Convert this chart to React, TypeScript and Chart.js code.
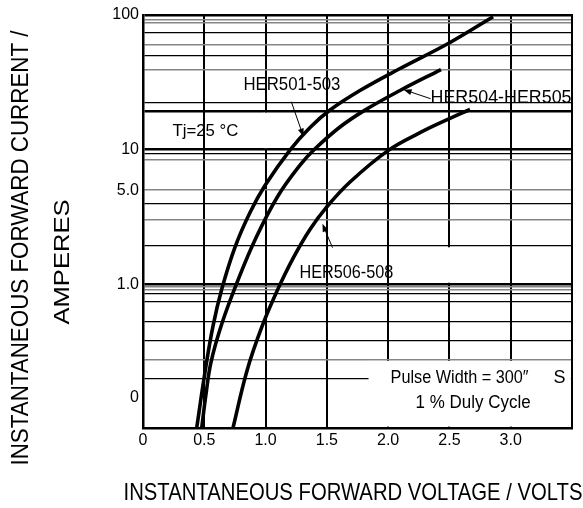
import React, { useEffect, useRef } from 'react';
import { Chart, registerables } from 'chart.js';

Chart.register(...registerables);

const FONT = '"Liberation Sans", Arial, sans-serif';

// ---- data ----
const V_HER501_503 = [0.438, 0.506, 0.571, 0.645, 0.751, 0.873, 0.995, 1.199, 1.363, 1.526, 1.77, 2.097, 2.505, 2.856];
const I_HER501_503 = [0.0855, 0.2227, 0.489, 0.937, 1.889, 3.41, 5.41, 9.93, 14.62, 19.69, 27.49, 40.04, 62.5, 97.1];

const V_HER504_505 = [0.479, 0.514, 0.555, 0.645, 0.767, 0.922, 1.101, 1.281, 1.395, 1.607, 1.811, 2.097, 2.431];
const I_HER504_505 = [0.0855, 0.1528, 0.2642, 0.5148, 1.029, 2.212, 4.52, 7.66, 9.97, 14.72, 19.66, 27.49, 39.3];

const V_HER506_508 = [0.734, 0.8485, 0.971, 1.093, 1.224, 1.362, 1.493, 1.689, 1.999, 2.26, 2.496, 2.668];
const I_HER506_508 = [0.0855, 0.2281, 0.4859, 0.8887, 1.557, 2.553, 3.695, 5.744, 9.83, 13.36, 16.91, 19.86];

// ---- axes ----
const X_MIN = 0;
const X_MAX = 3.5;
const X_TICKS = [0, 0.5, 1, 1.5, 2, 2.5, 3, 3.5];
const X_TICK_LABELS = ['0', '0.5', '1.0', '1.5', '2.0', '2.5', '3.0', ''];

const Y_MIN = 0.0855;
const Y_MAX = 100;
const Y_LABEL_VALUES = [100, 10, 5, 1, 0.143];
const Y_LABELS = ['100', '10', '5.0', '1.0', '0'];
const Y_GRID_THICK = [100, 19.3, 10, 1];
const Y_GRID_BLACK = [73.5, 49.9, 22.5, 9.26, 4, 1.93, 0.856, 0.743, 0.527, 0.381, 0.198];
const Y_GRID_GRAY = [92.3, 88, 60.1, 39.4, 8.47, 5, 3, 0.955, 0.91, 0.274];

const Y_TICKS = Array.from(new Set([...Y_GRID_THICK, ...Y_GRID_BLACK, ...Y_GRID_GRAY, ...Y_LABEL_VALUES])).sort((a, b) => a - b);

// ---- annotations (data coordinates) ----
const NOTES = [
  { text: 'Tj=25 °C', v: 0.24, i: 13.6, size: 17, width: 66 },
  { text: 'HER501-503', v: 0.819, i: 30.3, size: 19, width: 97 },
  { text: 'HER504-HER505', v: 2.346, i: 24.1, size: 19, width: 141 },
  { text: 'HER506-508', v: 1.276, i: 1.21, size: 19, width: 94 },
  { text: 'Pulse Width = 300″', v: 2.02, i: 0.201, size: 18, width: 138 },
  { text: 'S', v: 3.35, i: 0.201, size: 18, width: 0 },
  { text: '1 % Duly Cycle', v: 2.224, i: 0.131, size: 18, width: 115 },
];
const ARROWS = [
  { from: [1.21, 22.7], to: [1.309, 12.5] },
  { from: [2.346, 23.9], to: [2.126, 27.9] },
  { from: [1.546, 1.87], to: [1.464, 2.81] },
];
const BOX = { vFrom: 1.84, iTop: 0.274 };
const GAPS = [
  { v: 1.0, iTop: 19.3, iBot: 10 },
  { v: 2.5, iTop: 1.93, iBot: 1 },
];

const near = (a: number, list: number[]) => list.some((b) => Math.abs(a - b) / b < 1e-6);

function fitText(ctx: CanvasRenderingContext2D, text: string, x: number, y: number, size: number, width: number, align: CanvasTextAlign = 'left', rotate = false) {
  ctx.save();
  ctx.font = `${size}px ${FONT}`;
  const w0 = ctx.measureText(text).width;
  const sx = width ? width / w0 : 1;
  ctx.translate(x, y);
  if (rotate) ctx.rotate(-Math.PI / 2);
  ctx.scale(sx, 1);
  ctx.textAlign = align;
  ctx.textBaseline = 'middle';
  ctx.fillStyle = '#000';
  ctx.fillText(text, 0, 0);
  ctx.restore();
}

const overlayPlugin = {
  id: 'overlay',
  beforeDatasetsDraw(chart: any) {
    const { ctx, chartArea } = chart;
    const xs = chart.scales.x;
    const ys = chart.scales.y;
    ctx.save();
    ctx.fillStyle = '#fff';
    const bx = xs.getPixelForValue(BOX.vFrom);
    const by = ys.getPixelForValue(BOX.iTop) + 1;
    ctx.fillRect(bx, by, chartArea.right - 1.2 - bx, chartArea.bottom - 1.4 - by);
    GAPS.forEach((g) => {
      const gx = xs.getPixelForValue(g.v);
      const y1 = ys.getPixelForValue(g.iTop) + 1.5;
      const y2 = ys.getPixelForValue(g.iBot) - 1.5;
      ctx.fillRect(gx - 2, y1, 4, y2 - y1);
    });
    ctx.restore();
  },
  afterDraw(chart: any) {
    const { ctx, chartArea } = chart;
    const xs = chart.scales.x;
    const ys = chart.scales.y;
    ctx.save();
    ctx.strokeStyle = '#000';
    ctx.lineWidth = 2;
    ctx.beginPath();
    ctx.moveTo(chartArea.right, chartArea.top - 1);
    ctx.lineTo(chartArea.right, chartArea.bottom + 1);
    ctx.stroke();
    ctx.restore();

    NOTES.forEach((n) => {
      fitText(ctx, n.text, xs.getPixelForValue(n.v), ys.getPixelForValue(n.i), n.size, n.width, 'left');
    });

    ARROWS.forEach((a) => {
      const x1 = xs.getPixelForValue(a.from[0]);
      const y1 = ys.getPixelForValue(a.from[1]);
      const x2 = xs.getPixelForValue(a.to[0]);
      const y2 = ys.getPixelForValue(a.to[1]);
      const ang = Math.atan2(y2 - y1, x2 - x1);
      ctx.save();
      ctx.strokeStyle = '#000';
      ctx.fillStyle = '#000';
      ctx.lineWidth = 1;
      ctx.beginPath();
      ctx.moveTo(x1, y1);
      ctx.lineTo(x2 - 5 * Math.cos(ang), y2 - 5 * Math.sin(ang));
      ctx.stroke();
      ctx.beginPath();
      ctx.moveTo(x2, y2);
      ctx.lineTo(x2 - 8 * Math.cos(ang) + 3 * Math.sin(ang), y2 - 8 * Math.sin(ang) - 3 * Math.cos(ang));
      ctx.lineTo(x2 - 8 * Math.cos(ang) - 3 * Math.sin(ang), y2 - 8 * Math.sin(ang) + 3 * Math.cos(ang));
      ctx.closePath();
      ctx.fill();
      ctx.restore();
    });

    fitText(ctx, 'INSTANTANEOUS FORWARD CURRENT /', 22, 248, 23, 435, 'center', true);
    fitText(ctx, 'AMPERES', 63, 262, 22, 125, 'center', true);
    fitText(ctx, 'INSTANTANEOUS FORWARD VOLTAGE / VOLTS', 353, 493, 24, 459, 'center');
  },
};

const toPoints = (vs: number[], is: number[]) => vs.map((v, k) => ({ x: v, y: is[k] }));

export default function App() {
  const ref = useRef<HTMLCanvasElement>(null);
  useEffect(() => {
    if (!ref.current) return;
    const line = (data: any) => ({
      data,
      borderColor: '#000',
      borderWidth: 3.6,
      pointRadius: 0,
      fill: false,
      tension: 0.4,
    });
    const chart = new Chart(ref.current, {
      type: 'line',
      data: {
        datasets: [
          { label: 'HER501-503', ...line(toPoints(V_HER501_503, I_HER501_503)) },
          { label: 'HER504-HER505', ...line(toPoints(V_HER504_505, I_HER504_505)) },
          { label: 'HER506-508', ...line(toPoints(V_HER506_508, I_HER506_508)) },
        ],
      },
      options: {
        responsive: false,
        animation: false,
        devicePixelRatio: 1,
        layout: { padding: { top: 15, right: 11, left: 0, bottom: 0 } },
        plugins: { legend: { display: false }, tooltip: { enabled: false } },
        scales: {
          x: {
            type: 'linear',
            min: X_MIN,
            max: X_MAX,
            afterBuildTicks: (s: any) => {
              s.ticks = X_TICKS.map((v) => ({ value: v }));
            },
            afterFit: (s: any) => {
              s.height = 80;
            },
            ticks: {
              autoSkip: false,
              maxRotation: 0,
              padding: 3,
              color: '#000',
              font: { family: FONT, size: 16 },
              callback: (v: any) => {
                const k = X_TICKS.findIndex((t) => Math.abs(t - Number(v)) < 1e-9);
                return k >= 0 ? X_TICK_LABELS[k] : '';
              },
            },
            grid: {
              drawTicks: false,
              color: (c: any) => (c.tick && c.tick.value === 0 ? 'rgba(0,0,0,0)' : '#000'),
              lineWidth: 2,
            },
            border: { display: true, color: '#000', width: 2.5 },
          },
          y: {
            type: 'logarithmic',
            min: Y_MIN,
            max: Y_MAX,
            afterBuildTicks: (s: any) => {
              s.ticks = Y_TICKS.map((v) => ({ value: v }));
            },
            afterFit: (s: any) => {
              s.width = 143;
            },
            ticks: {
              autoSkip: false,
              padding: 4,
              color: '#000',
              font: { family: FONT, size: 16 },
              callback: (v: any) => {
                const k = Y_LABEL_VALUES.findIndex((t) => Math.abs(t - Number(v)) / t < 1e-6);
                return k >= 0 ? Y_LABELS[k] : '';
              },
            },
            grid: {
              drawTicks: false,
              color: (c: any) => {
                const v = c.tick ? c.tick.value : 0;
                if (near(v, Y_GRID_THICK) || near(v, Y_GRID_BLACK)) return '#000';
                if (near(v, Y_GRID_GRAY)) return '#858585';
                return 'rgba(0,0,0,0)';
              },
              lineWidth: (c: any) => {
                const v = c.tick ? c.tick.value : 0;
                if (near(v, Y_GRID_THICK)) return 2.5;
                if (near(v, Y_GRID_BLACK)) return 1.3;
                return 1.6;
              },
            },
            border: { display: true, color: '#000', width: 2.5 },
          },
        },
      },
      plugins: [overlayPlugin],
    });
    return () => chart.destroy();
  }, []);
  return (
    <div style={{ position: 'absolute', left: 0, top: 0, width: 583, height: 508, background: '#fff' }}>
      <canvas ref={ref} width={583} height={508} />
    </div>
  );
}
